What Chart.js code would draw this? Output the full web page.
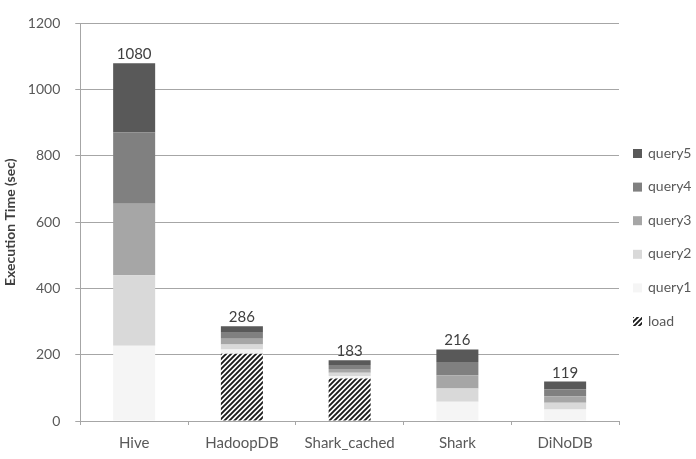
<!DOCTYPE html>
<html>
<head>
<meta charset="utf-8">
<script src="https://cdn.jsdelivr.net/npm/chart.js@4.4.1/dist/chart.umd.min.js"></script>
<style>
  html, body { margin: 0; padding: 0; background: #fff; }
  #wrap { width: 696px; height: 459px; position: relative; }
</style>
</head>
<body>
<div id="wrap"><canvas id="chart"></canvas></div>
<script>
// ---- Data ----
const systems = ['Hive', 'HadoopDB', 'Shark_cached', 'Shark', 'DiNoDB'];
const loadTime = [0, 203, 128, 0, 0];
const query1 = [227, 13, 8, 58, 35];
const query2 = [213, 15, 10, 40, 20];
const query3 = [216, 17, 11, 40, 20];
const query4 = [215, 18, 12, 40, 20];
const query5 = [209, 20, 14, 38, 24];
const totals = [1080, 286, 183, 216, 119];
const yTicks = [0, 200, 400, 600, 800, 1000, 1200];

// diagonal hatch for the load segment
function makeHatch() {
    const c = document.createElement('canvas');
    c.width = 5; c.height = 5;
    const g = c.getContext('2d');
    g.fillStyle = '#fff';
    g.fillRect(0, 0, 5, 5);
    g.strokeStyle = '#1a1a1a';
    g.lineWidth = 1.9;
    g.beginPath();
    g.moveTo(-1, 6); g.lineTo(6, -1);
    g.moveTo(-1, 1); g.lineTo(1, -1);
    g.moveTo(4, 6); g.lineTo(6, 4);
    g.stroke();
    return g.createPattern(c, 'repeat');
}

const FONT = 'Lato, "Open Sans", sans-serif';
const textColor = '#595959';

// totals above each bar
const totalLabels = {
    id: 'totalLabels',
    afterDatasetsDraw(chart) {
        const ctx = chart.ctx;
        const meta = chart.getDatasetMeta(chart.data.datasets.length - 1);
        ctx.save();
        ctx.font = '15px ' + FONT;
        ctx.fillStyle = '#404040';
        ctx.textAlign = 'center';
        ctx.textBaseline = 'alphabetic';
        meta.data.forEach((bar, i) => {
            const y = chart.scales.y.getPixelForValue(totals[i]);
            ctx.fillText(String(totals[i]), bar.x, y - 4);
        });
        ctx.restore();
    }
};

// legend drawn on the right, top item = query5
const sideLegend = {
    id: 'sideLegend',
    afterDraw(chart) {
        const ctx = chart.ctx;
        const area = chart.chartArea;
        const items = chart.data.datasets.slice().reverse();
        const x0 = area.right + 14;
        const y0 = 153;
        const step = 33.6;
        ctx.save();
        ctx.font = '14px ' + FONT;
        ctx.textBaseline = 'middle';
        ctx.textAlign = 'left';
        items.forEach((ds, i) => {
            const y = y0 + i * step;
            ctx.fillStyle = ds.backgroundColor;
            ctx.fillRect(x0, y - 4, 9, 9);
            ctx.fillStyle = textColor;
            ctx.fillText(ds.label, x0 + 15, y);
        });
        ctx.restore();
    }
};

const ctx = document.getElementById('chart').getContext('2d');
const chart = new Chart(ctx, {
    type: 'bar',
    data: {
        labels: systems,
        datasets: [
            { label: 'load', data: loadTime, backgroundColor: makeHatch() },
            { label: 'query1', data: query1, backgroundColor: '#f5f5f5' },
            { label: 'query2', data: query2, backgroundColor: '#d9d9d9' },
            { label: 'query3', data: query3, backgroundColor: '#a6a6a6' },
            { label: 'query4', data: query4, backgroundColor: '#808080' },
            { label: 'query5', data: query5, backgroundColor: '#595959' }
        ]
    },
    options: {
        responsive: true,
        maintainAspectRatio: false,
        animation: false,
        layout: { padding: { top: 7, right: 77, bottom: -2, left: 2 } },
        datasets: { bar: { barPercentage: 0.39, categoryPercentage: 1.0, borderWidth: 0 } },
        plugins: { legend: { display: false }, tooltip: { enabled: false } },
        scales: {
            x: {
                stacked: true,
                border: { color: '#a6a6a6', width: 1 },
                grid: { offset: true, drawOnChartArea: false, drawTicks: true, tickLength: 4, color: '#a6a6a6' },
                ticks: { color: textColor, font: { family: FONT, size: 15 }, padding: 9 }
            },
            y: {
                stacked: true,
                min: 0,
                max: 1200,
                afterBuildTicks(axis) { axis.ticks = yTicks.map(v => ({ value: v })); },
                border: { color: '#a6a6a6', width: 1 },
                grid: { color: '#a6a6a6', tickLength: 5 },
                ticks: { color: textColor, font: { family: FONT, size: 14 }, padding: 15, callback: v => String(v) },
                title: { display: true, text: 'Execution Time (sec)', color: '#404040', font: { family: FONT, size: 14, weight: 'bold' }, padding: { top: 0, bottom: -6 } }
            }
        }
    },
    plugins: [totalLabels, sideLegend]
});
</script>
</body>
</html>
